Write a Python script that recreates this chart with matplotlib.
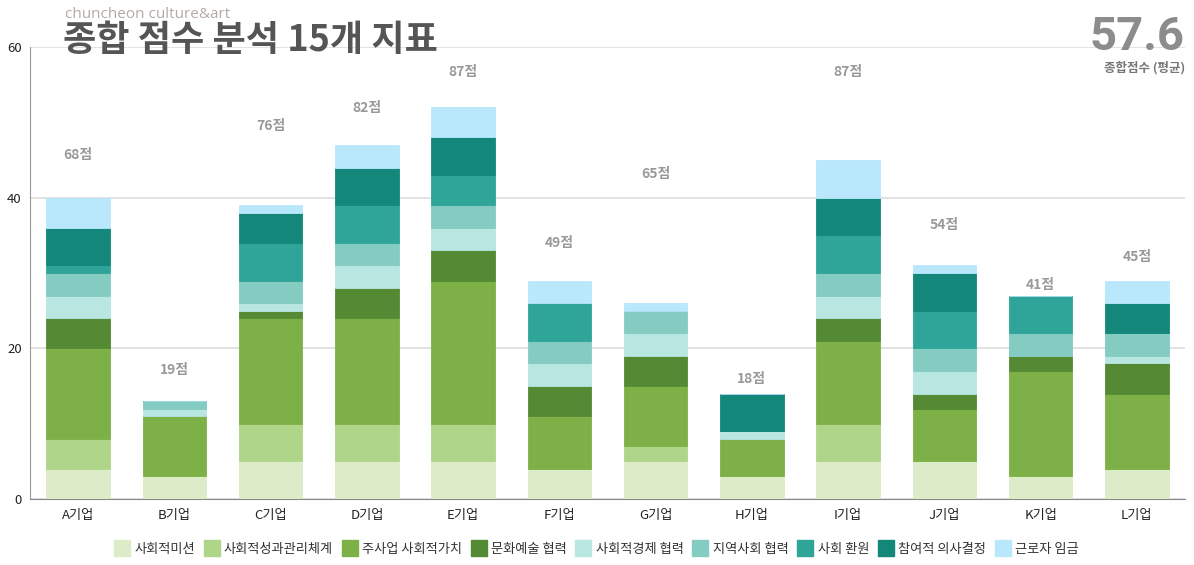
import numpy as np
import matplotlib.pyplot as plt
from matplotlib.lines import Line2D

plt.rcParams['font.family'] = ['Noto Sans CJK KR', 'DejaVu Sans']

companies = ["A기업", "B기업", "C기업", "D기업", "E기업", "F기업",
             "G기업", "H기업", "I기업", "J기업", "K기업", "L기업"]
indicators = ["사회적미션", "사회적성과관리체계", "주사업 사회적가치", "문화예술 협력",
              "사회적경제 협력", "지역사회 협력", "사회 환원", "참여적 의사결정", "근로자 임금"]

social_mission   = [4, 3, 5, 5, 5, 4, 5, 3, 5, 5, 3, 4]
perf_management  = [4, 0, 5, 5, 5, 0, 2, 0, 5, 0, 0, 0]
main_biz_value   = [12, 8, 14, 14, 19, 7, 8, 5, 11, 7, 14, 10]
culture_arts     = [4, 0, 1, 4, 4, 4, 4, 0, 3, 2, 2, 4]
social_economy   = [3, 1, 1, 3, 3, 3, 3, 1, 3, 3, 0, 1]
local_community  = [3, 1, 3, 3, 3, 3, 3, 0, 3, 3, 3, 3]
social_return    = [1, 0, 5, 5, 4, 5, 0, 0, 5, 5, 5, 0]
participation    = [5, 0, 4, 5, 5, 0, 0, 5, 5, 5, 0, 4]
worker_wage      = [4, 0, 1, 3, 4, 3, 1, 0, 5, 1, 0, 3]

total_score = [68, 19, 76, 82, 87, 49, 65, 18, 87, 54, 41, 45]
# hidden score series the labels hang on
score_marker = [45.7, 17.1, 49.5, 51.9, 56.7, 34.0, 43.2, 15.9, 56.7, 36.4, 28.4, 32.1]
average_score = 57.6

series = [social_mission, perf_management, main_biz_value, culture_arts,
          social_economy, local_community, social_return, participation, worker_wage]
colors = ["#dcebc8", "#aed588", "#7db147", "#558a34",
          "#b8e6e0", "#84cbc2", "#2ea598", "#13887a", "#b9e8fc"]

fig = plt.figure(figsize=(11.94, 5.65), dpi=100)
ax = fig.add_axes([30 / 1194, 1 - 499 / 565, 1155 / 1194, 452 / 565])

x = np.arange(len(companies))
bottom = np.zeros(len(companies))
for vals, col, name in zip(series, colors, indicators):
    ax.bar(x, vals, bottom=bottom, width=0.66, color=col, label=name,
           edgecolor=col, linewidth=0.6, zorder=3)
    bottom += np.array(vals)

for xi, yv, s in zip(x, score_marker, total_score):
    ax.text(xi, yv, f"{s}점", ha="center", va="center",
            fontsize=10, color="#999999", fontweight="bold", zorder=4)

ax.set_xlim(-0.5, 11.5)
ax.set_ylim(0, 60)
ax.set_yticks([0, 20, 40, 60])
ax.set_xticks(x)
ax.set_xticklabels(companies)
ax.tick_params(axis="both", length=0, labelsize=9.5, colors="#222222")
ax.tick_params(axis="y", pad=6)
ax.tick_params(axis="x", pad=7)
ax.grid(axis="y", color="#dddddd", linewidth=1.2, zorder=0)
for side in ["top", "right"]:
    ax.spines[side].set_visible(False)
ax.spines["left"].set_color("#999999")
ax.spines["bottom"].set_color("#888888")

# title block
fig.text(65 / 1194, 1 - 14 / 565, "chuncheon culture&art", fontsize=11,
         color="#b5aaa5", va="center", family=["Open Sans", "DejaVu Sans"])
fig.text(63 / 1194, 1 - 40 / 565, "종합 점수 분석 15개 지표", fontsize=26,
         fontweight=900, color="#555555", va="center")

fig.text(1185 / 1194, 1 - 37 / 565, f"{average_score}", fontsize=34,
         fontweight="bold", color="#8c8c8c", ha="right", va="center",
         family=["Roboto", "DejaVu Sans"])
fig.text(1185 / 1194, 1 - 68 / 565, "종합점수 (평균)", fontsize=9,
         fontweight="bold", color="#777777", ha="right", va="center")

handles = [Line2D([0], [0], marker="s", linestyle="", markersize=11,
                  markerfacecolor=c, markeredgecolor=c) for c in colors]
fig.legend(handles, indicators, loc="center", bbox_to_anchor=(0.5, 1 - 549 / 565),
           ncol=9, frameon=False, fontsize=9.5, handletextpad=0.45,
           columnspacing=0.75, handlelength=1.0, labelcolor="#333333")

fig.savefig("out.png", dpi=100)
